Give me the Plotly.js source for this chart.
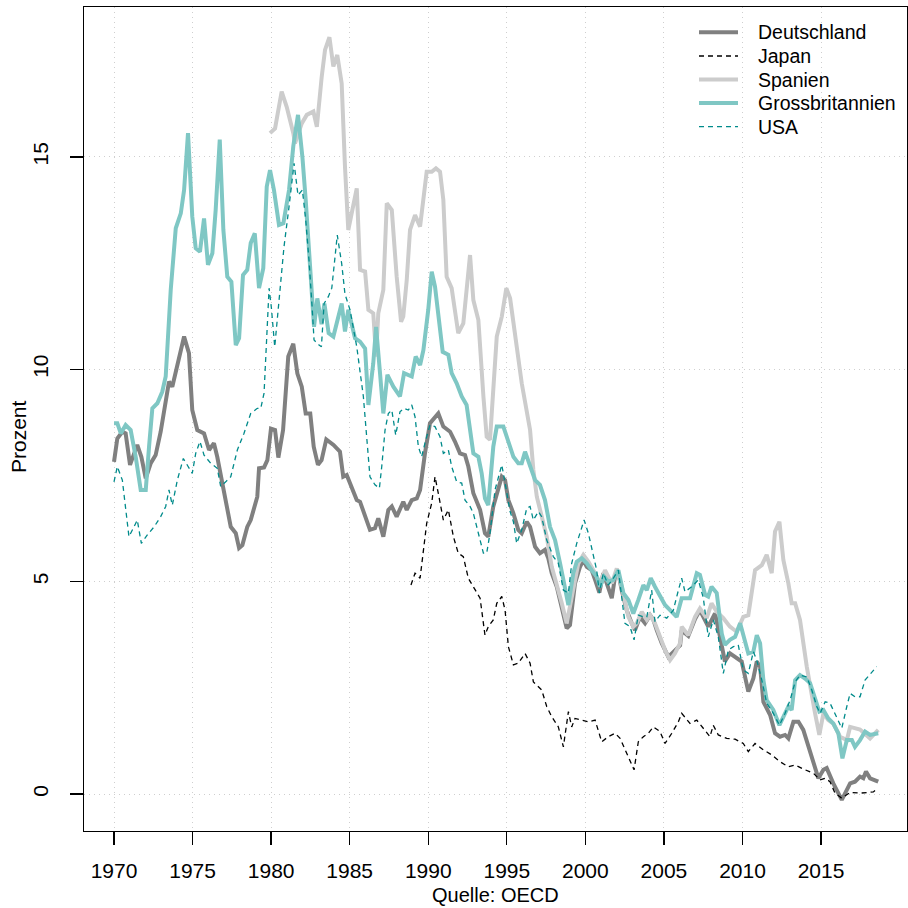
<!DOCTYPE html>
<html>
<head>
<meta charset="utf-8">
<script src="https://cdn.plot.ly/plotly-3.0.1.min.js"></script>
<style>html,body{margin:0;padding:0;background:#fff;}#chart{width:908px;height:908px;}</style>
</head>
<body>
<div id="chart"></div>
<script>
// Series names
const seriesNames = ["Deutschland", "Japan", "Spanien", "Grossbritannien", "USA"];

// Deutschland
const deJahr = [1970.00,1970.21,1970.53,1970.74,1971.02,1971.48,1971.74,1972.02,1972.34,1972.65,1972.97,1973.29,1973.50,1973.71,1974.09,1974.46,1974.77,1974.88,1974.98,1975.30,1975.73,1976.05,1976.36,1976.57,1977.00,1977.43,1977.75,1977.96,1978.17,1978.48,1978.70,1979.12,1979.23,1979.55,1979.76,1979.99,1980.25,1980.46,1980.76,1980.95,1981.09,1981.41,1981.67,1981.95,1982.20,1982.49,1982.71,1982.98,1983.21,1983.51,1983.97,1984.38,1984.59,1984.81,1985.02,1985.45,1985.66,1985.98,1986.29,1986.61,1986.82,1987.14,1987.46,1987.68,1987.99,1988.41,1988.63,1988.95,1989.27,1989.48,1989.79,1990.11,1990.64,1990.96,1991.39,1991.70,1992.02,1992.34,1992.55,1992.87,1993.30,1993.61,1993.82,1994.14,1994.68,1994.89,1995.10,1995.42,1995.73,1995.95,1996.27,1996.48,1996.80,1997.11,1997.43,1997.64,1997.86,1998.18,1998.50,1998.81,1999.02,1999.34,1999.66,1999.87,2000.09,2000.40,2000.62,2000.89,2001.14,2001.46,2001.68,2001.89,2002.10,2002.31,2002.63,2002.95,2003.16,2003.48,2003.80,2004.12,2004.33,2004.54,2004.86,2005.28,2005.60,2006.03,2006.13,2006.55,2006.98,2007.29,2007.82,2008.25,2008.57,2008.88,2009.20,2009.63,2009.95,2010.37,2010.69,2010.91,2011.12,2011.33,2011.76,2012.07,2012.39,2012.71,2012.92,2013.24,2013.56,2013.87,2014.19,2014.51,2014.83,2015.15,2015.36,2015.78,2016.32,2016.85,2017.16,2017.48,2017.69,2017.86,2018.12,2018.64];
const deWert = [7.82,8.37,8.53,8.49,7.75,8.22,7.94,7.43,7.79,7.98,8.53,9.28,9.71,9.59,10.2,10.77,10.38,9.75,9.04,8.57,8.49,8.10,8.26,7.94,7.16,6.29,6.14,5.79,5.86,6.29,6.45,7.0,7.67,7.69,7.86,8.6,8.57,7.92,8.57,9.75,10.3,10.6,9.9,9.59,8.96,8.96,8.18,7.75,7.86,8.35,8.22,8.06,7.47,7.51,7.32,6.92,6.88,6.53,6.22,6.26,6.49,6.06,6.69,6.77,6.53,6.88,6.69,6.92,6.96,7.16,8.02,8.73,8.96,8.65,8.53,8.30,8.02,7.98,7.71,7.08,6.69,6.14,6.06,6.77,7.47,7.39,6.92,6.61,6.22,6.14,6.41,6.29,5.82,5.67,5.75,5.55,5.20,4.88,4.33,3.90,3.98,4.96,5.35,5.51,5.35,5.27,5.04,4.74,5.20,4.88,4.61,5.12,5.20,4.80,4.33,4.02,3.86,4.17,4.02,4.21,4.10,3.86,3.55,3.23,3.35,3.50,3.85,3.72,4.12,4.33,3.94,4.25,3.70,3.12,3.31,3.19,3.12,2.41,2.72,3.12,3.00,2.17,1.86,1.43,1.35,1.39,1.31,1.70,1.70,1.51,1.11,0.72,0.37,0.57,0.61,0.25,-0.14,0.25,0.29,0.41,0.37,0.53,0.37,0.29];

// Japan
const jpJahr = [1988.90,1989.16,1989.48,1989.90,1990.22,1990.43,1990.64,1990.96,1991.28,1991.60,1991.91,1992.23,1992.55,1992.91,1993.30,1993.61,1993.82,1994.14,1994.36,1994.68,1994.89,1995.10,1995.42,1995.73,1996.16,1996.48,1996.69,1997.22,1997.54,1997.86,1998.28,1998.60,1998.92,1999.13,1999.34,1999.77,2000.19,2000.62,2001.04,2001.46,2001.89,2002.21,2002.63,2003.10,2003.37,2003.69,2004.01,2004.33,2004.75,2005.07,2005.50,2005.92,2006.13,2006.66,2007.09,2007.62,2007.93,2008.14,2008.46,2009.00,2009.53,2010.05,2010.37,2010.80,2011.33,2011.86,2012.39,2012.92,2013.35,2013.98,2014.51,2014.94,2015.26,2015.57,2015.89,2016.32,2016.85,2017.48,2018.33,2018.54];
const jpWert = [4.92,5.20,5.08,6.37,6.85,7.47,7.08,6.45,6.69,6.06,5.67,5.59,5.08,4.85,4.61,3.74,3.94,4.10,4.49,4.65,4.33,3.47,3.04,3.08,3.31,3.08,2.64,2.45,2.06,1.82,1.58,1.11,1.94,1.58,1.78,1.74,1.70,1.74,1.23,1.35,1.43,1.31,0.96,0.57,1.23,1.35,1.43,1.58,1.47,1.19,1.43,1.70,1.90,1.66,1.74,1.51,1.35,1.62,1.39,1.31,1.29,1.19,1.00,1.19,1.04,0.92,0.76,0.64,0.68,0.57,0.49,0.33,0.37,0.29,0.02,-0.10,0.04,0.02,0.05,0.12];

// Spanien
const esJahr = [1979.93,1980.25,1980.67,1980.99,1981.41,1981.52,1981.95,1982.27,1982.69,1982.91,1983.22,1983.43,1983.71,1983.96,1984.21,1984.49,1984.70,1984.91,1985.45,1985.66,1985.98,1986.19,1986.50,1986.68,1986.82,1987.14,1987.36,1987.68,1987.99,1988.27,1988.41,1988.63,1988.84,1989.16,1989.48,1989.90,1990.22,1990.49,1990.75,1990.96,1991.17,1991.49,1991.60,1991.91,1992.23,1992.44,1992.66,1992.87,1993.19,1993.51,1993.72,1993.93,1994.36,1994.68,1994.97,1995.21,1995.63,1995.95,1996.48,1996.59,1996.69,1996.91,1997.22,1997.54,1997.86,1998.18,1998.50,1998.81,1999.23,1999.55,1999.87,2000.19,2000.62,2000.93,2001.25,2001.68,2002.00,2002.31,2002.74,2003.05,2003.27,2003.59,2003.91,2004.12,2004.43,2004.75,2005.07,2005.39,2005.70,2006.03,2006.13,2006.55,2006.98,2007.29,2007.72,2008.03,2008.36,2008.78,2009.20,2009.63,2010.05,2010.37,2010.80,2011.23,2011.54,2011.86,2012.07,2012.35,2012.60,2012.92,2013.13,2013.35,2013.66,2014.09,2014.41,2014.62,2014.89,2015.15,2015.46,2015.78,2016.21,2016.64,2016.85,2017.48,2018.12,2018.64];
const esWert = [15.56,15.67,16.54,16.18,15.56,15.32,15.79,15.99,16.07,15.71,16.89,17.52,17.82,17.13,17.40,16.73,14.77,13.28,14.26,12.34,12.30,11.40,11.32,10.30,11.32,11.87,13.91,13.75,12.18,11.12,11.24,12.10,13.28,13.63,13.36,14.65,14.65,14.73,14.65,13.99,12.18,11.91,11.63,10.85,11.08,11.87,12.69,11.63,11.16,9.36,8.41,8.34,10.77,11.24,11.91,11.67,10.61,9.67,8.57,8.10,7.63,7.00,6.53,6.06,5.35,4.96,4.49,4.02,4.88,5.43,5.63,5.47,5.20,4.96,5.27,4.96,5.31,4.88,4.17,3.94,4.02,4.29,4.10,4.21,4.02,3.70,3.39,3.15,3.31,3.55,3.94,3.74,4.17,4.37,4.14,4.49,4.29,4.14,3.94,3.82,4.17,4.21,5.27,5.39,5.63,5.20,6.18,6.41,5.51,4.96,4.49,4.49,4.10,3.00,2.29,1.90,1.39,1.90,1.74,1.66,1.35,1.27,1.58,1.52,1.31,1.51];

// Grossbritannien
const gbJahr = [1970.00,1970.21,1970.43,1970.74,1971.06,1971.38,1971.70,1972.02,1972.23,1972.44,1972.76,1973.07,1973.29,1973.61,1973.93,1974.25,1974.46,1974.71,1974.98,1975.20,1975.47,1975.73,1975.98,1976.26,1976.47,1976.73,1976.96,1977.21,1977.47,1977.75,1977.96,1978.21,1978.48,1978.70,1978.96,1979.23,1979.50,1979.72,1979.93,1980.18,1980.50,1980.78,1981.14,1981.41,1981.71,1981.99,1982.20,1982.41,1982.62,1982.73,1982.94,1983.21,1983.39,1983.66,1983.96,1984.28,1984.49,1984.70,1984.91,1985.34,1985.66,1985.98,1986.19,1986.50,1986.68,1986.93,1987.14,1987.40,1987.78,1988.20,1988.46,1988.95,1989.20,1989.48,1989.69,1990.00,1990.22,1990.43,1990.64,1990.92,1991.28,1991.49,1991.81,1992.13,1992.44,1992.66,1992.87,1993.19,1993.40,1993.61,1993.82,1994.14,1994.36,1994.78,1995.10,1995.42,1995.73,1995.95,1996.16,1996.48,1996.80,1997.11,1997.43,1997.75,1998.07,1998.39,1998.71,1998.92,1999.23,1999.45,1999.77,2000.09,2000.40,2000.72,2000.93,2001.19,2001.46,2001.78,2002.10,2002.42,2002.74,2003.05,2003.37,2003.69,2003.91,2004.16,2004.43,2004.75,2005.07,2005.39,2005.81,2006.13,2006.66,2007.09,2007.29,2007.62,2007.82,2008.03,2008.36,2008.68,2008.88,2009.20,2009.53,2009.85,2010.17,2010.37,2010.69,2010.91,2011.12,2011.33,2011.54,2011.96,2012.35,2012.60,2012.92,2013.13,2013.35,2013.66,2013.98,2014.30,2014.62,2014.89,2015.15,2015.46,2015.78,2016.10,2016.36,2016.64,2016.96,2017.16,2017.48,2017.80,2018.12,2018.64];
const gbWert = [8.73,8.73,8.49,8.69,8.57,7.94,7.16,7.16,8.18,9.08,9.20,9.47,9.83,11.87,13.32,13.67,14.22,15.56,13.60,12.85,12.77,13.55,12.46,12.73,13.75,15.41,13.28,12.18,12.06,10.57,10.73,12.22,12.34,12.97,13.20,11.91,12.38,14.30,14.69,14.22,13.40,13.44,14.22,15.25,15.99,15.00,13.99,12.81,11.63,11.00,11.67,11.06,11.55,10.85,10.77,11.28,11.55,10.89,11.40,10.73,10.65,10.49,9.16,10.14,11.00,9.91,8.96,9.87,9.59,9.36,9.91,9.83,10.30,10.10,10.45,11.40,12.30,11.95,11.32,10.41,10.34,9.91,9.67,9.36,9.16,8.65,8.02,7.94,7.55,6.96,6.80,8.18,8.65,8.65,8.30,7.94,7.79,7.79,8.06,7.71,7.39,7.28,6.92,6.29,5.98,5.43,4.88,4.45,5.20,5.47,5.55,5.43,5.27,5.12,4.88,5.12,5.00,5.04,5.27,4.73,4.57,4.25,4.57,4.92,4.80,5.08,4.88,4.65,4.45,4.33,4.17,4.61,4.61,5.20,5.16,4.69,4.65,4.88,4.73,3.78,3.51,3.63,3.70,4.02,3.63,3.31,3.35,3.74,3.55,2.68,2.21,1.98,1.62,1.82,2.06,1.98,2.68,2.80,2.72,2.61,2.21,1.94,1.98,1.78,1.66,1.43,0.84,1.27,1.27,1.11,1.27,1.47,1.39,1.43];

// USA
const usJahr = [1970.00,1970.21,1970.53,1970.74,1970.95,1971.27,1971.48,1971.74,1972.12,1972.55,1972.97,1973.29,1973.50,1973.71,1974.03,1974.41,1974.67,1974.98,1975.20,1975.47,1975.73,1976.15,1976.57,1976.79,1977.11,1977.43,1977.85,1978.27,1978.70,1979.12,1979.34,1979.55,1979.87,1980.01,1980.23,1980.50,1980.82,1981.14,1981.46,1981.71,1981.99,1982.20,1982.41,1982.62,1982.73,1983.05,1983.20,1983.37,1983.64,1983.86,1984.21,1984.49,1984.70,1985.02,1985.45,1985.87,1986.08,1986.29,1986.61,1986.89,1987.04,1987.25,1987.46,1987.68,1987.93,1988.20,1988.46,1988.73,1988.95,1989.16,1989.37,1989.58,1989.79,1990.11,1990.43,1990.75,1990.96,1991.28,1991.49,1991.81,1992.13,1992.34,1992.66,1992.87,1993.19,1993.51,1993.72,1993.93,1994.25,1994.68,1994.89,1995.21,1995.42,1995.63,1995.95,1996.27,1996.48,1996.69,1997.01,1997.22,1997.54,1997.96,1998.28,1998.60,1998.92,1999.13,1999.45,1999.66,1999.92,2000.19,2000.50,2000.72,2000.89,2001.14,2001.46,2001.78,2002.10,2002.31,2002.52,2002.84,2003.10,2003.37,2003.69,2003.91,2004.22,2004.43,2004.75,2005.18,2005.60,2005.92,2006.13,2006.34,2006.77,2007.19,2007.51,2007.82,2008.14,2008.46,2008.78,2009.10,2009.42,2009.73,2010.05,2010.37,2010.69,2010.91,2011.23,2011.54,2011.96,2012.35,2012.71,2013.03,2013.35,2013.66,2014.09,2014.41,2014.73,2014.94,2015.26,2015.57,2015.89,2016.32,2016.64,2016.85,2017.16,2017.48,2017.80,2018.23,2018.54];
const usWert = [7.35,7.71,7.39,6.77,6.06,6.29,6.45,5.90,6.10,6.29,6.53,6.77,7.16,6.80,7.39,7.90,7.75,7.55,8.02,8.30,7.98,7.79,7.67,7.24,7.35,7.47,8.10,8.49,8.96,9.08,9.08,9.44,11.91,11.47,10.53,11.63,12.89,13.83,14.85,14.10,14.22,13.52,12.57,11.40,10.69,10.57,10.53,11.55,11.71,11.91,13.16,12.49,11.77,11.40,10.53,9.36,8.34,7.47,7.28,7.20,7.71,8.57,8.96,9.04,8.45,9.00,9.08,9.04,9.16,8.88,8.18,7.94,8.26,8.69,8.65,8.41,8.02,8.10,7.71,7.35,7.32,6.92,6.77,6.61,6.14,5.67,5.67,6.14,7.16,7.75,7.32,6.65,6.41,5.90,6.22,6.73,6.77,6.45,6.65,6.53,5.98,5.59,5.43,4.80,4.73,5.43,5.90,6.14,6.45,6.14,5.59,5.27,4.73,5.20,4.92,5.08,5.27,4.65,4.02,3.94,3.63,4.21,4.17,4.17,4.80,4.06,4.21,4.14,4.33,4.80,5.08,4.76,4.88,5.04,4.61,3.70,4.10,3.70,2.84,3.39,3.47,3.51,2.92,2.84,3.35,3.15,2.68,2.14,1.90,1.62,1.90,2.21,2.64,2.80,2.76,2.45,2.06,1.90,2.17,2.14,1.90,1.55,2.06,2.37,2.29,2.29,2.68,2.88,3.00];

// Axis ticks
const xTicks = [1970, 1975, 1980, 1985, 1990, 1995, 2000, 2005, 2010, 2015];
const yTicks = [0, 5, 10, 15];
const xTitle = "Quelle: OECD";
const yTitle = "Prozent";

const FONT = "Liberation Sans, Arial, Helvetica, sans-serif";

// Styles per series (same order as seriesNames)
const seriesColors = ["#808080", "#000000", "#cccccc", "#7fc7c4", "#008b8b"];
const seriesWidths = [4, 1.3, 4, 4, 1.3];
const seriesDash = ["solid", "5px,4px", "solid", "solid", "5px,4px"];
const xData = [deJahr, jpJahr, esJahr, gbJahr, usJahr];
const yData = [deWert, jpWert, esWert, gbWert, usWert];

const traces = seriesNames.map((n, i) => ({
  x: xData[i], y: yData[i], name: n, type: "scatter", mode: "lines",
  showlegend: false,
  line: {color: seriesColors[i], width: seriesWidths[i], dash: seriesDash[i]}
}));

// Manual legend and axis titles (paper coordinates) to mimic R layout
const plotL = 84, plotR = 907, plotT = 7, plotB = 831;
const px = v => (v - plotL) / (plotR - plotL);
const py = v => (plotB - v) / (plotB - plotT);
const legRows = [32.3, 56, 79.5, 103, 126.7];
const shapes = [];
const annotations = [];
seriesNames.forEach((n, i) => {
  shapes.push({type: "line", xref: "paper", yref: "paper",
    x0: px(699), x1: px(738), y0: py(legRows[i]), y1: py(legRows[i]),
    line: {color: seriesColors[i], width: seriesWidths[i], dash: seriesDash[i]}});
  annotations.push({xref: "paper", yref: "paper", x: px(756), y: py(legRows[i]),
    xanchor: "left", yanchor: "middle", showarrow: false, text: n,
    font: {family: FONT, size: 19.5, color: "#000"}});
});
annotations.push({xref: "paper", yref: "paper", x: 0.5, y: py(895),
  xanchor: "center", yanchor: "middle", showarrow: false, text: xTitle,
  font: {family: FONT, size: 20, color: "#000"}});
annotations.push({xref: "paper", yref: "paper", x: px(18), y: py(437),
  xanchor: "center", yanchor: "middle", showarrow: false, text: yTitle, textangle: -90,
  font: {family: FONT, size: 21, color: "#000"}});

const layout = {
  width: 908, height: 908,
  margin: {l: 84, r: 1, t: 7, b: 77, pad: 0},
  paper_bgcolor: "#ffffff", plot_bgcolor: "#ffffff",
  font: {family: FONT, size: 21, color: "#000000"},
  showlegend: false,
  shapes: shapes,
  annotations: annotations,
  xaxis: {
    range: [1968.09, 2020.47], tickmode: "array", tickvals: xTicks,
    ticktext: xTicks.map(String),
    ticks: "outside", ticklen: 13, tickwidth: 1.3, tickcolor: "#000",
    showline: true, mirror: true, linecolor: "#000", linewidth: 1.3,
    showgrid: true, gridcolor: "#cfcfcf", griddash: "1px,4px", gridwidth: 1,
    zeroline: false, ticklabelstandoff: 7,
    tickfont: {family: FONT, size: 21, color: "#000"}
  },
  yaxis: {
    range: [-0.871, 18.53], tickmode: "array", tickvals: yTicks,
    ticktext: yTicks.map(String), tickangle: -90,
    ticks: "outside", ticklen: 13, tickwidth: 1.3, tickcolor: "#000",
    showline: true, mirror: true, linecolor: "#000", linewidth: 1.3,
    showgrid: true, gridcolor: "#cfcfcf", griddash: "1px,4px", gridwidth: 1,
    zeroline: false, ticklabelstandoff: 13,
    tickfont: {family: FONT, size: 21, color: "#000"}
  }
};

Plotly.newPlot("chart", traces, layout, {displayModeBar: false, staticPlot: true});
</script>
</body>
</html>
